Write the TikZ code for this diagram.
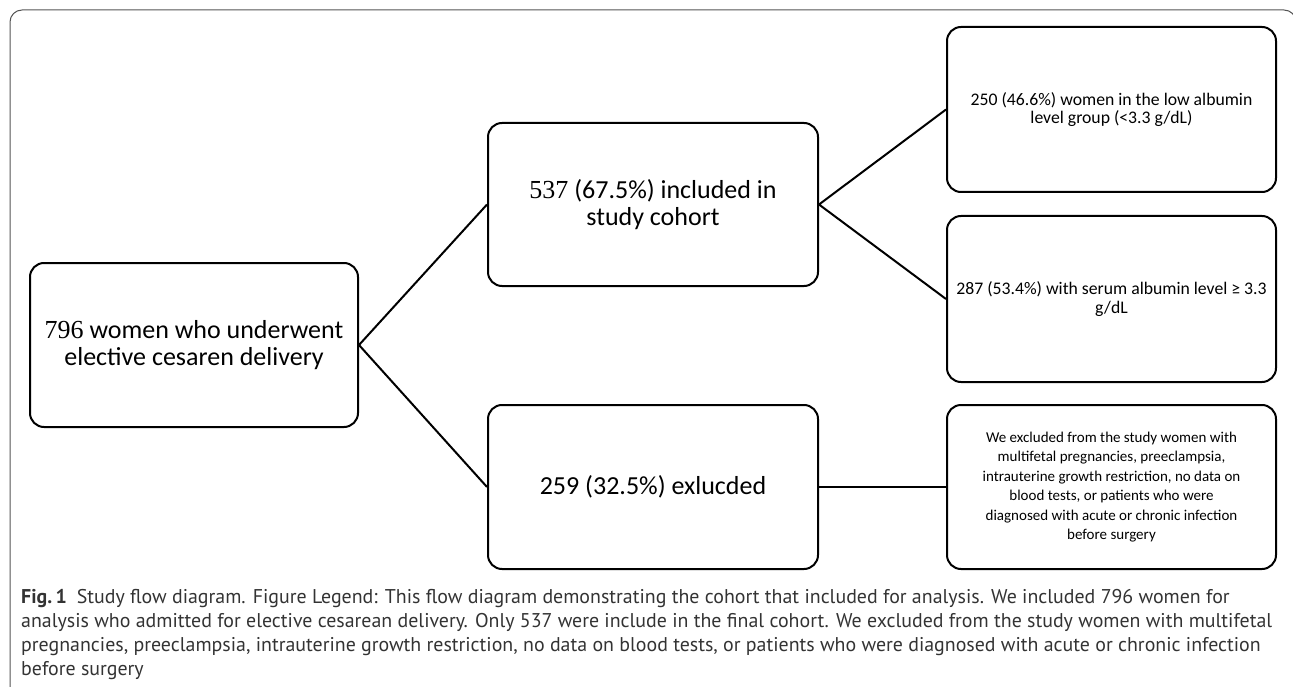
\documentclass[tikz,border=0pt]{standalone}
\usepackage{fontspec}
\setmainfont{Carlito}
\newfontfamily\numfont{Liberation Serif}
\newfontfamily\capfont{PT Sans}
\definecolor{framegray}{HTML}{555555}
\definecolor{capgray}{HTML}{333333}
\newcommand{\captext}{\fontsize{19.9pt}{24.2pt}\capfont\color{capgray}}
\begin{document}
\begin{tikzpicture}[x=1pt,y=-1pt,
  box/.style={draw, line width=2pt, rounded corners=14pt, align=center, inner sep=2pt},
  big/.style={box, font=\fontsize{26}{27}\selectfont},
  mid/.style={box, font=\fontsize{17.7}{18.5}\selectfont},
  small/.style={box, font=\fontsize{15}{19.4}\selectfont},
  link/.style={line width=2pt}]
\useasboundingbox (0,0) rectangle (1293,687);
\draw[framegray, line width=1pt, rounded corners=12pt] (10,700) -- (10,10) -- (1296,10) -- (1296,700);
\node[big, minimum width=328pt, minimum height=164pt] (A) at (194,345) {{\numfont 796} women who underwent\\elective cesaren delivery};
\node[big, minimum width=330pt, minimum height=163pt] (B) at (653,204.5) {{\numfont 537} (67.5\%) included in\\study cohort};
\node[big, minimum width=330pt, minimum height=164pt] (C) at (653,487) {259 (32.5\%) exlucded};
\node[mid, minimum width=329pt, minimum height=165pt] (D) at (1111.5,109.5) {250 (46.6\%) women in the low albumin\\level group (<3.3 g/dL)};
\node[mid, minimum width=329pt, minimum height=166pt] (E) at (1111.5,299) {287 (53.4\%) with serum albumin level ≥ 3.3\\g/dL};
\node[small, minimum width=329pt, minimum height=164pt] (F) at (1111.5,487) {We excluded from the study women with\\multifetal pregnancies, preeclampsia,\\intrauterine growth restriction, no data on\\blood tests, or patients who were\\diagnosed with acute or chronic infection\\before surgery};
\draw[link] (B.west) -- (A.east) -- (C.west);
\draw[link] (D.west) -- (B.east) -- (E.west);
\draw[link] (C.east) -- (F.west);
\node[anchor=north west, inner sep=0pt] (cap) at (21,586) {\captext\begin{tabular}{@{}l@{}}{\bfseries Fig.\,1}\enspace Study flow diagram. Figure Legend: This flow diagram demonstrating the cohort that included for analysis. We included 796 women for\\analysis who admitted for elective cesarean delivery. Only 537 were include in the final cohort. We excluded from the study women with multifetal\\pregnancies, preeclampsia, intrauterine growth restriction, no data on blood tests, or patients who were diagnosed with acute or chronic infection\\before surgery\end{tabular}};
\end{tikzpicture}
\end{document}
